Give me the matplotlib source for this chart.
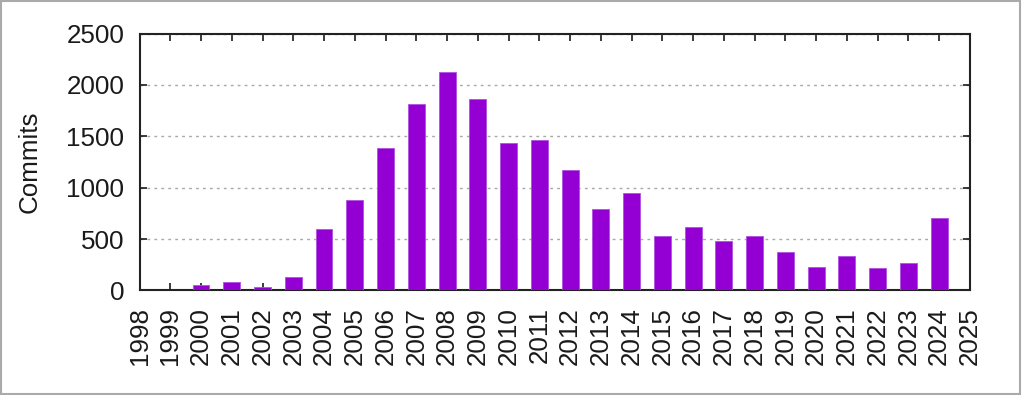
import matplotlib
matplotlib.use("Agg")
import matplotlib.pyplot as plt

plt.rcParams['font.family'] = ['Liberation Sans', 'DejaVu Sans']

# commits per year
years = [1999, 2000, 2001, 2002, 2003, 2004, 2005, 2006, 2007, 2008, 2009,
         2010, 2011, 2012, 2013, 2014, 2015, 2016, 2017, 2018, 2019, 2020,
         2021, 2022, 2023, 2024]
commits = [0, 50, 83, 37, 128, 598, 885, 1391, 1815, 2124, 1861,
           1436, 1465, 1177, 794, 950, 535, 613, 477, 535, 370, 230,
           340, 217, 263, 703]
tick_years = list(range(1998, 2026))

fig = plt.figure(figsize=(10.22, 3.95), dpi=100)
ax = fig.add_axes([0.1365, 0.2646, 0.8125, 0.6504])

ax.bar(years, commits, width=0.55, color='#9400D3', edgecolor='#b050e0',
       linewidth=0.6, zorder=3)

ax.set_xlim(1998, 2025)
ax.set_ylim(0, 2500)
ax.set_xticks(tick_years)
ax.set_xticklabels([str(y) for y in tick_years], rotation=90)
ax.set_yticks([0, 500, 1000, 1500, 2000, 2500])

ax.yaxis.grid(True, linestyle=(0, (2.0, 3.0)), color='#a8a8a8', linewidth=1.0)
ax.set_axisbelow(True)

ax.tick_params(axis='both', direction='in', length=5, width=1.2, labelsize=18.7,
               top=True, right=True, colors='#1a1a1a')
ax.tick_params(axis='x', pad=12)
ax.tick_params(axis='y', pad=11)
for s in ax.spines.values():
    s.set_linewidth(1.5)
    s.set_color('#222222')

ax.set_ylabel('Commits', fontsize=18.7, color='#1a1a1a')
ax.yaxis.set_label_coords(-0.118, 0.5)

# thin gray frame around the whole image
fig.patches.append(plt.Rectangle((0.001, 0.002), 0.997, 0.995, transform=fig.transFigure,
                                 fill=False, edgecolor='#aaaaaa', linewidth=1.5))

fig.savefig('out.png', dpi=100)
